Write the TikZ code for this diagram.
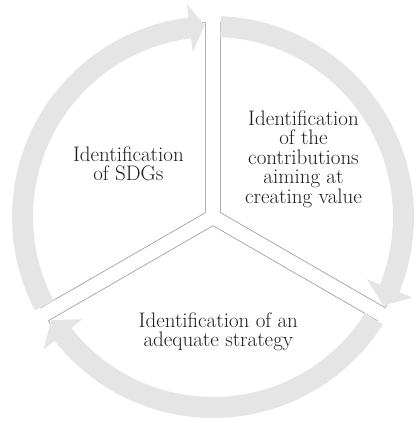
\documentclass[tikz,border=0pt]{standalone}
\usepackage{fontspec}
\usepackage{xcolor}
\usetikzlibrary{positioning}
\definecolor{ringgray}{RGB}{229, 229, 229}
\definecolor{edgegray}{RGB}{135, 135, 135}
\definecolor{labelink}{RGB}{30, 30, 30}
\tikzstyle{sector} = [
	draw=edgegray,
	fill=white,
	line width=0.5pt,
	line join=miter
]
\tikzstyle{ringarrow} = [
	fill=ringgray,
	draw=none
]
\tikzstyle{steplabel} = [
	align=center,
	text=labelink,
	inner sep=0pt,
	font=\fontsize{21}{19.4}\selectfont
]

\begin{document}
\begin{tikzpicture}[x=1pt, y=1pt]

	\useasboundingbox (-213,-206) rectangle (206,217);

	%
	% Pie sectors, pushed apart along their bisectors
	\draw[sector, shift={(150:8.7)}] (0,0) -- (90:190) arc[start angle=90, end angle=210, radius=190] -- cycle;
	\draw[sector, shift={(30:8.7)}] (0,0) -- (-30:190) arc[start angle=-30, end angle=90, radius=190] -- cycle;
	\draw[sector, shift={(270:8.7)}] (0,0) -- (210:190) arc[start angle=210, end angle=330, radius=190] -- cycle;

	%
	% Circular arrows, running clockwise
	\fill[ringarrow] (207.7:201) arc[start angle=207.7, end angle=97, radius=201]
		-- (97:215) -- (92.5:192) -- (97:166) -- (97:180)
		arc[start angle=97, end angle=207.7, radius=180] -- cycle;
	\fill[ringarrow] (87.7:201) arc[start angle=87.7, end angle=-22, radius=201]
		-- (-22:215) -- (-27.5:192) -- (-22:166) -- (-22:180)
		arc[start angle=-22, end angle=87.7, radius=180] -- cycle;
	\fill[ringarrow] (-32.3:201) arc[start angle=-32.3, end angle=-142, radius=201]
		-- (-142:215) -- (-147.5:192) -- (-142:166) -- (-142:180)
		arc[start angle=-142, end angle=-32.3, radius=180] -- cycle;

	%
	% Step labels
	\node[steplabel] (sdgs) at (-84.6,53) {Identification\\of SDGs};
	\node[steplabel] (contrib) at (90.5,58) {Identification\\of the\\contributions\\aiming at\\creating value};
	\node[steplabel] (strategy) at (5.3,-114.5) {Identification of an\\adequate strategy};

\end{tikzpicture}
\end{document}
